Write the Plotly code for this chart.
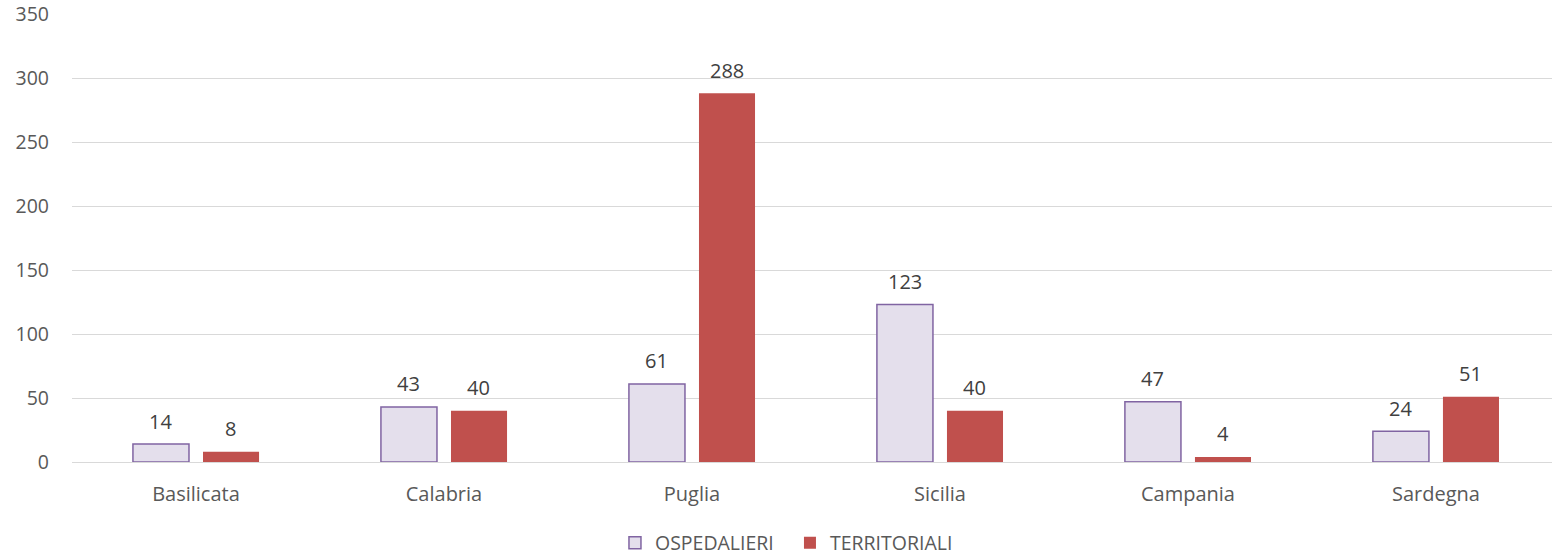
import plotly.graph_objects as go

regioni = ["Basilicata", "Calabria", "Puglia", "Sicilia", "Campania", "Sardegna"]
ospedalieri = [14, 43, 61, 123, 47, 24]
territoriali = [8, 40, 288, 40, 4, 51]
y_ticks = [0, 50, 100, 150, 200, 250, 300, 350]

FONT = "Open Sans, Liberation Sans, sans-serif"
TXT = "#595959"

fig = go.Figure()
fig.add_trace(go.Bar(
    name="OSPEDALIERI", x=regioni, y=ospedalieri,
    marker=dict(color="#E4DFEC", line=dict(color="#8064A2", width=1.5)),
))
fig.add_trace(go.Bar(
    name="TERRITORIALI", x=regioni, y=territoriali,
    marker=dict(color="#C0504D", line=dict(width=0)),
))

# value labels above each bar
for i, (a, b) in enumerate(zip(ospedalieri, territoriali)):
    for val, dx in ((a, -35), (b, 35)):
        fig.add_annotation(
            x=i, y=val, xref="x", yref="y", text=str(val), showarrow=False,
            xshift=dx, yshift=23, font=dict(family=FONT, size=20, color="#404040"),
        )

fig.update_layout(
    width=1552, height=558,
    margin=dict(l=72, r=0, t=14, b=95.5),
    plot_bgcolor="white", paper_bgcolor="white",
    barmode="group", bargap=0.435, bargroupgap=0.2,
    font=dict(family=FONT, size=19, color=TXT),
    legend=dict(
        orientation="h", xref="container", yref="container",
        x=0.509, xanchor="center", y=1 - 543 / 558, yanchor="middle",
        font=dict(family=FONT, size=19.5, color=TXT), itemwidth=30,
        entrywidth=130, borderwidth=0, tracegroupgap=0,
    ),
    showlegend=True,
)
fig.update_xaxes(
    range=[-0.5, 5.468], showgrid=False, showline=False, ticks="",
    ticklabelstandoff=18,
    tickfont=dict(family=FONT, size=20, color=TXT),
)
fig.update_yaxes(
    range=[0, 350], tickvals=y_ticks, showgrid=True, gridcolor="#D9D9D9",
    gridwidth=1, zeroline=True, zerolinecolor="#D9D9D9", zerolinewidth=1,
    showline=False, ticks="", ticklabelstandoff=22, ticklabeloverflow="allow",
    tickfont=dict(family=FONT, size=19.5, color=TXT),
)

fig.write_html("out.html")
